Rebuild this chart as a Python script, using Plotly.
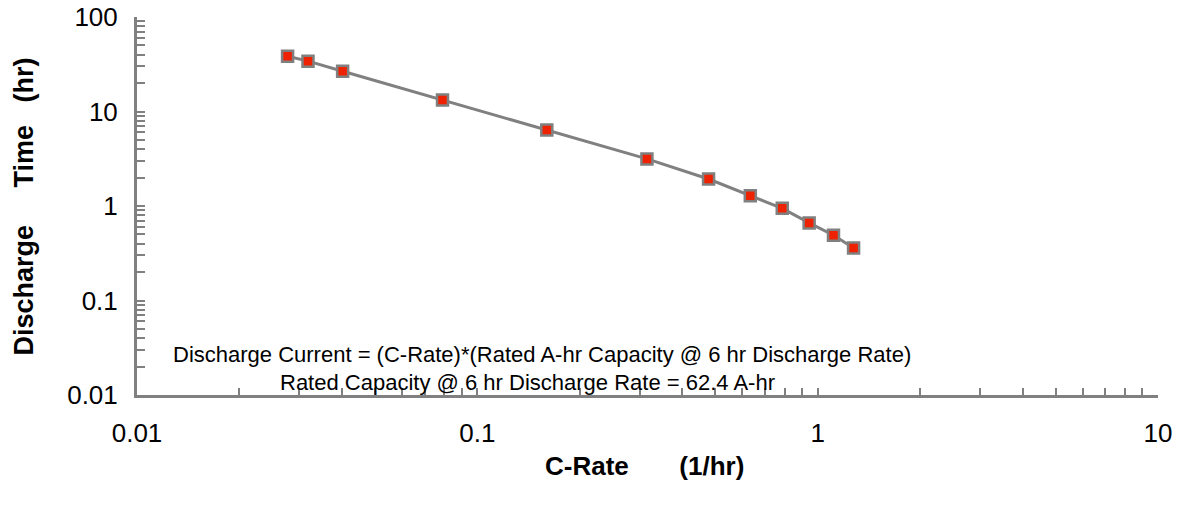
import plotly.graph_objects as go

# Data
c_rate = [0.0277, 0.0318, 0.0402, 0.079, 0.16, 0.315, 0.478, 0.634, 0.787, 0.944, 1.113, 1.275]
discharge_time = [38.5, 34.1, 26.7, 13.2, 6.37, 3.15, 1.93, 1.285, 0.944, 0.662, 0.49, 0.36]

x_decades = [0.01, 0.1, 1, 10]
x_decade_labels = ["0.01", "0.1", "1", "10"]
y_decades = [0.01, 0.1, 1, 10, 100]
y_decade_labels = ["0.01", "0.1", "1", "10", "100"]

note_line1 = "Discharge Current = (C-Rate)*(Rated A-hr Capacity @ 6 hr Discharge Rate)"
note_line2 = "Rated Capacity @ 6 hr Discharge Rate = 62.4 A-hr"
x_title = "C-Rate" + "\u00a0" * 7 + "(1/hr)"
y_title = "Discharge" + "\u00a0" * 5 + "Time" + "\u00a0" * 3 + "(hr)"


def log_ticks(decades, labels):
    vals, texts = [], []
    for i, d in enumerate(decades):
        vals.append(d)
        texts.append(labels[i])
        if i < len(decades) - 1:
            for m in range(2, 10):
                vals.append(d * m)
                texts.append("")
    return vals, texts


xv, xt = log_ticks(x_decades, x_decade_labels)
yv, yt = log_ticks(y_decades, y_decade_labels)

FONT = "Liberation Sans, Arial, sans-serif"
GRAY = "#808080"

fig = go.Figure()
fig.add_trace(go.Scatter(
    x=c_rate, y=discharge_time, mode="lines+markers",
    line=dict(color=GRAY, width=3),
    marker=dict(symbol="square", size=11, color="#EE2200",
                line=dict(color=GRAY, width=2.5)),
    showlegend=False, cliponaxis=False,
))

fig.update_layout(
    width=1180, height=505,
    margin=dict(l=137, r=22, t=17, b=110),
    paper_bgcolor="white", plot_bgcolor="white",
    font=dict(family=FONT, color="black"),
    xaxis=dict(
        type="log", range=[-2, 1], showgrid=False, zeroline=False,
        showline=True, linecolor=GRAY, linewidth=3, automargin=False,
        ticks="inside", ticklen=7, tickwidth=2, tickcolor=GRAY,
        tickvals=xv, ticktext=xt, tickfont=dict(size=26, family=FONT),
        ticklabelstandoff=13,
    ),
    yaxis=dict(
        type="log", range=[-2, 2], showgrid=False, zeroline=False,
        showline=True, linecolor=GRAY, linewidth=3, automargin=False,
        ticks="inside", ticklen=8, tickwidth=2, tickcolor=GRAY,
        tickvals=yv, ticktext=yt, tickfont=dict(size=26, family=FONT),
        ticklabelstandoff=11,
    ),
    annotations=[
        dict(text=note_line1, xref="paper", yref="paper", x=0.3968, y=0.1082,
             xanchor="center", yanchor="middle", showarrow=False,
             font=dict(size=22, family=FONT, color="black")),
        dict(text=note_line2, xref="paper", yref="paper", x=0.3821, y=0.0343,
             xanchor="center", yanchor="middle", showarrow=False,
             font=dict(size=22, family=FONT, color="black")),
        dict(text="<b>" + x_title + "</b>", xref="paper", yref="paper",
             x=0.4969, y=-0.187, xanchor="center", yanchor="middle", showarrow=False,
             font=dict(size=26, family=FONT, color="black")),
        dict(text="<b>" + y_title + "</b>", xref="paper", yref="paper",
             x=-0.1106, y=0.4987, xanchor="center", yanchor="middle", showarrow=False,
             textangle=-90, font=dict(size=27, family=FONT, color="black")),
    ],
)

fig.write_html("out.html")
